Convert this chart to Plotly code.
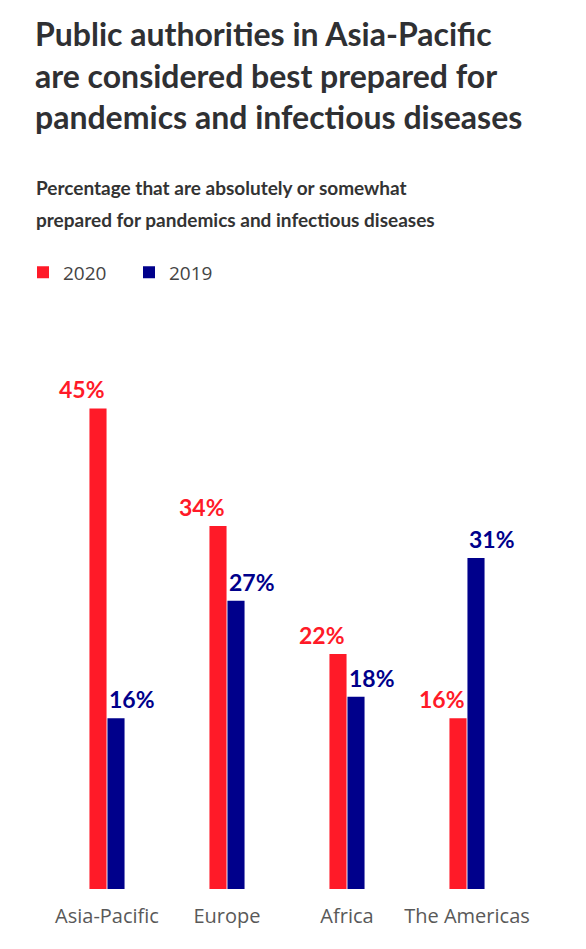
import plotly.graph_objects as go

categories = ["Asia-Pacific", "Europe", "Africa", "The Americas"]
values_2020 = [45, 34, 22, 16]
values_2019 = [16, 27, 18, 31]
series_names = ["2020", "2019"]

RED = "#FF1A28"
BLUE = "#00008B"
FONT = "Lato, 'Noto Sans', sans-serif"
TICKFONT = "'Open Sans', 'Noto Sans', sans-serif"

# page body has an 8px margin: work in reference pixels, shifted by OFF
OFF = 8
W, H = 578, 933
L = 47 - OFF
T = 370 - OFF
plot_right = 527 - OFF
plot_bottom = 896 - OFF
R = W - plot_right
B = H - plot_bottom
plot_w = plot_right - L
plot_h = plot_bottom - T

def px_x(p):
    return (p - OFF - L) / plot_w

def px_y(p):
    return (plot_bottom - (p - OFF)) / plot_h

fig = go.Figure()
fig.add_trace(go.Bar(
    x=categories, y=values_2020, name=series_names[0],
    marker=dict(color=RED, line=dict(width=0)),
    hoverinfo="skip",
))
fig.add_trace(go.Bar(
    x=categories, y=values_2019, name=series_names[1],
    marker=dict(color=BLUE, line=dict(width=0)),
    hoverinfo="skip",
))

# value labels: 2020 right-aligned to group centre, 2019 left-aligned
for cat, v in zip(categories, values_2020):
    fig.add_annotation(
        x=cat, y=v, xref="x", yref="y", text=f"{v}%", showarrow=False,
        xanchor="right", yanchor="bottom", xshift=0, yshift=3,
        font=dict(size=23, color=RED, family=FONT, weight="bold"),
    )
for cat, v in zip(categories, values_2019):
    fig.add_annotation(
        x=cat, y=v, xref="x", yref="y", text=f"{v}%", showarrow=False,
        xanchor="left", yanchor="bottom", xshift=0, yshift=3,
        font=dict(size=23, color=BLUE, family=FONT, weight="bold"),
    )

fig.update_layout(
    width=W, height=H,
    margin=dict(l=L, r=R, t=T, b=B, pad=0),
    paper_bgcolor="white", plot_bgcolor="white",
    barmode="group", bargap=0.70, bargroupgap=0.05,
    font=dict(family=FONT, color="#444"),
    showlegend=True,
    legend=dict(
        orientation="h", x=px_x(23), xanchor="left",
        y=px_y(271), yanchor="middle",
        font=dict(size=19, color="#444", family=TICKFONT),
        entrywidth=61, entrywidthmode="pixels",
        itemclick=False, itemdoubleclick=False,
    ),
    xaxis=dict(
        showline=False, showgrid=False, zeroline=False, ticks="",
        tickfont=dict(size=20, color="#595959", family=TICKFONT),
        ticklabelstandoff=13,
        fixedrange=True,
    ),
    yaxis=dict(
        range=[0, 48.6], visible=False, showgrid=False, zeroline=False,
        fixedrange=True,
    ),
)

fig.add_annotation(
    xref="paper", yref="paper", x=px_x(33), y=px_y(7),
    xanchor="left", yanchor="top", align="left", showarrow=False,
    text="Public authorities in Asia-Pacific<br>are considered best prepared for<br>pandemics and infectious diseases",
    font=dict(size=32, color="#2f3033", family=FONT, weight="bold"),
)
fig.add_annotation(
    xref="paper", yref="paper", x=px_x(34), y=px_y(185),
    xanchor="left", yanchor="middle", align="left", showarrow=False,
    text="Percentage that are absolutely or somewhat",
    font=dict(size=19, color="#333", family=FONT, weight="bold"),
)
fig.add_annotation(
    xref="paper", yref="paper", x=px_x(34), y=px_y(217),
    xanchor="left", yanchor="middle", align="left", showarrow=False,
    text="prepared for pandemics and infectious diseases",
    font=dict(size=19, color="#333", family=FONT, weight="bold"),
)

fig.write_html("out.html", config={"displayModeBar": False})
